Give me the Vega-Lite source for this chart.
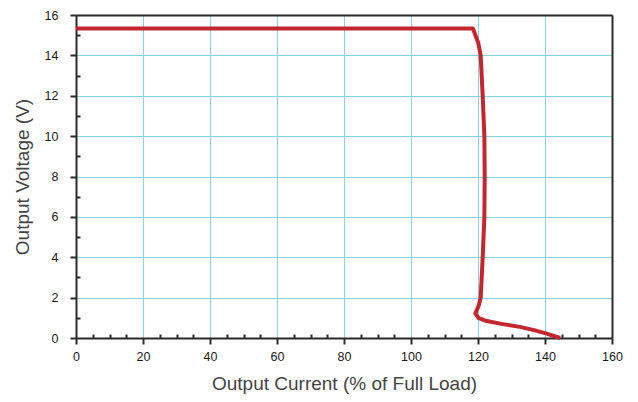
{
  "$schema": "https://vega.github.io/schema/vega-lite/v6.json",
  "width": 536,
  "height": 323,
  "autosize": "none",
  "padding": {"left": 76, "top": 15, "right": 26, "bottom": 64},
  "background": "white",
  "config": {
    "view": {"stroke": null},
    "font": "Liberation Sans",
    "axis": {
      "labelFont": "Liberation Sans",
      "titleFont": "Liberation Sans",
      "labelColor": "#1a1a1a",
      "titleColor": "#444444",
      "titleFontWeight": "normal",
      "labelFontSize": 12.5,
      "titleFontSize": 19,
      "labelFlush": false,
      "gridColor": "#8ad2de",
      "gridWidth": 1,
      "domainColor": "#2a2a2a",
      "domainWidth": 2,
      "tickColor": "#2a2a2a",
      "tickWidth": 2
    }
  },
  "data": {
    "values": [
      {"i": 0, "current": 0, "voltage": 15.33},
      {"i": 1, "current": 118.5, "voltage": 15.33},
      {"i": 2, "current": 120.1, "voltage": 14.6},
      {"i": 3, "current": 120.8, "voltage": 14.0},
      {"i": 4, "current": 121.4, "voltage": 12.0},
      {"i": 5, "current": 121.9, "voltage": 10.0},
      {"i": 6, "current": 122.0, "voltage": 8.0},
      {"i": 7, "current": 121.9, "voltage": 6.0},
      {"i": 8, "current": 121.4, "voltage": 4.0},
      {"i": 9, "current": 120.8, "voltage": 2.0},
      {"i": 10, "current": 120.2, "voltage": 1.6},
      {"i": 11, "current": 119.2, "voltage": 1.22},
      {"i": 12, "current": 120.2, "voltage": 0.98},
      {"i": 13, "current": 122.6, "voltage": 0.84},
      {"i": 14, "current": 127.0, "voltage": 0.7},
      {"i": 15, "current": 132.5, "voltage": 0.55},
      {"i": 16, "current": 137.0, "voltage": 0.38},
      {"i": 17, "current": 140.5, "voltage": 0.22},
      {"i": 18, "current": 144.5, "voltage": 0.0}
    ]
  },
  "resolve": {"axis": {"x": "independent", "y": "independent"}},
  "layer": [
    {
      "mark": {"type": "line", "color": "#c4262e", "strokeWidth": 4, "strokeJoin": "round", "strokeCap": "butt"},
      "encoding": {
        "x": {
          "field": "current", "type": "quantitative",
          "scale": {"domain": [0, 160], "nice": false, "zero": false},
          "axis": {"orient": "bottom", "values": [0,20,40,60,80,100,120,140,160], "grid": true,
                   "tickSize": 6, "labelPadding": 6, "titlePadding": 12,
                   "title": "Output Current (% of Full Load)"}
        },
        "y": {
          "field": "voltage", "type": "quantitative",
          "scale": {"domain": [0, 16], "nice": false, "zero": false},
          "axis": {"orient": "left", "values": [0,2,4,6,8,10,12,14,16], "grid": true,
                   "tickSize": 6, "labelPadding": 12, "titlePadding": 12,
                   "title": "Output Voltage (V)"}
        },
        "order": {"field": "i", "type": "quantitative"}
      }
    },
    {
      "mark": {"type": "line", "opacity": 0},
      "encoding": {
        "x": {
          "field": "current", "type": "quantitative",
          "scale": {"domain": [0, 160], "nice": false, "zero": false},
          "axis": {"orient": "bottom", "values": [5,10,15,25,30,35,45,50,55,65,70,75,85,90,95,105,110,115,125,130,135,145,150,155],
                   "labels": false, "domain": false, "grid": false, "tickSize": -4, "title": null}
        },
        "y": {
          "field": "voltage", "type": "quantitative",
          "scale": {"domain": [0, 16], "nice": false, "zero": false},
          "axis": {"orient": "left", "values": [1,3,5,7,9,11,13,15],
                   "labels": false, "domain": false, "grid": false, "tickSize": -4, "title": null}
        },
        "order": {"field": "i", "type": "quantitative"}
      }
    },
    {
      "mark": {"type": "line", "opacity": 0},
      "encoding": {
        "x": {
          "field": "current", "type": "quantitative",
          "scale": {"domain": [0, 160], "nice": false, "zero": false},
          "axis": {"orient": "top", "labels": false, "ticks": false, "grid": false, "domain": true, "title": null, "zindex": 1}
        },
        "y": {
          "field": "voltage", "type": "quantitative",
          "scale": {"domain": [0, 16], "nice": false, "zero": false},
          "axis": {"orient": "right", "labels": false, "ticks": false, "grid": false, "domain": true, "title": null, "zindex": 1}
        },
        "order": {"field": "i", "type": "quantitative"}
      }
    }
  ]
}
